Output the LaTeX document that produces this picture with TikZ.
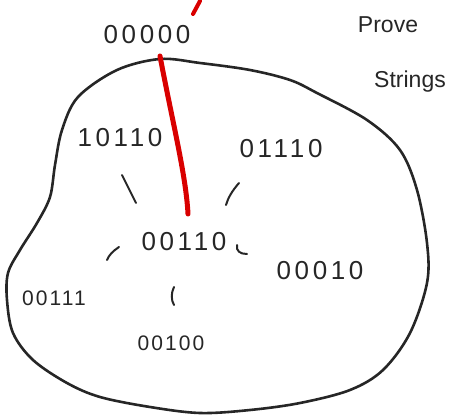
\documentclass[tikz,border=0pt]{standalone}
\usepackage{fontspec}
\setmainfont{Liberation Sans}
\begin{document}
\begin{tikzpicture}[x=1pt,y=-1pt,
  blob/.style={line width=2.6pt,draw=black!85,line join=round,line cap=round},
  tick/.style={line width=2pt,draw=black!85,line cap=round},
  red/.style={line width=5pt,draw=red!85!black,line cap=round},
  bits/.style={font=\fontsize{26}{26}\selectfont\addfontfeature{LetterSpace=14},text=black!85,inner sep=1pt},
  smallbits/.style={font=\fontsize{21}{21}\selectfont\addfontfeature{LetterSpace=10},text=black!85,inner sep=1pt},
  note/.style={font=\fontsize{23}{23}\selectfont,text=black!85,inner sep=1pt}]
\useasboundingbox (0,0) rectangle (452,417);
% blob
\draw[blob] plot[smooth cycle,tension=0.55] coordinates{
 (78,97) (117,70) (160,59) (200,63) (250,70) (290,80) (317,93) (367,120)
 (400,150) (417,190) (427,243) (427,283) (410,333) (383,370) (350,390)
 (300,403) (250,410) (200,413) (150,407) (100,397) (67,383) (33,360)
 (13,333) (7,300) (8,273) (20,250) (37,223) (50,197) (55,165) (62,130)};
% texts
\node[bits] (n0) at (147,35) {00000};
\node[note] (t1) at (388,25) {Prove};
\node[note] (t2) at (410,82) {Strings};
\node[bits] (a) at (120,138) {10110};
\node[bits] (b) at (281,149) {01110};
\node[bits] (c) at (184,242) {00110};
\node[bits] (d) at (320,271) {00010};
\node[smallbits] (e) at (54,298) {00111};
\node[smallbits] (f) at (171,343) {00100};
% red line
\coordinate (r0) at (200,1);
\coordinate (r1) at (193,14);
\draw[red,line width=4pt] (r0) -- (r1);
\coordinate (rs) at (160,56);
\coordinate (re) at (188,214);
\draw[red] (rs) .. controls (172,120) and (186,175) .. (re);
% ticks
\coordinate (k1a) at (122,175); \coordinate (k1b) at (136,203);
\draw[tick] (k1a) -- (k1b);
\coordinate (k2a) at (239,183); \coordinate (k2b) at (226,205);
\draw[tick] (k2a) .. controls (232,191) and (228,198) .. (k2b);
\coordinate (k3a) at (119,247); \coordinate (k3b) at (107,260);
\draw[tick] (k3a) .. controls (113,251) and (109,255) .. (k3b);
\coordinate (k4a) at (237,245); \coordinate (k4b) at (247,254);
\draw[tick] (k4a) .. controls (236,251) and (240,254) .. (k4b);
\coordinate (k5a) at (174,287); \coordinate (k5b) at (174,305);
\draw[tick] (k5a) .. controls (171,293) and (171,300) .. (k5b);
\end{tikzpicture}
\end{document}
